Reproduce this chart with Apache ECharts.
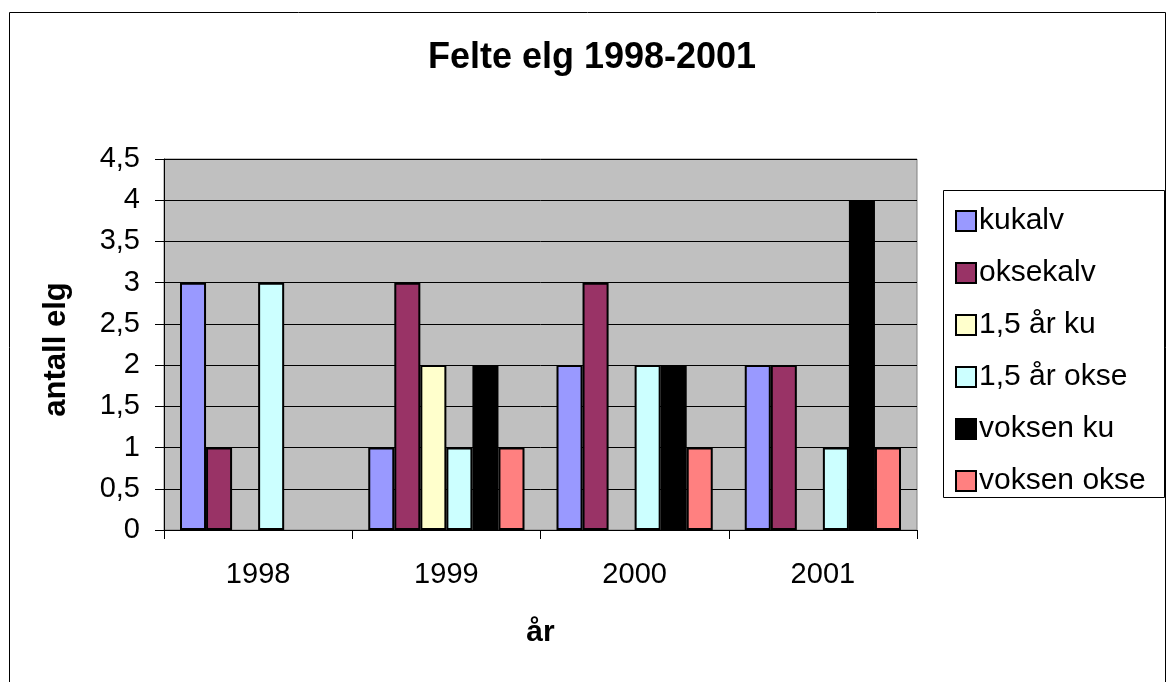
<!DOCTYPE html>
<html>
<head>
<meta charset="utf-8">
<script src="https://cdn.jsdelivr.net/npm/echarts@6/dist/echarts.min.js"></script>
<style>
  html, body { margin: 0; padding: 0; background: #fff; }
  #felte_elg { width: 1168px; height: 682px; }
</style>
</head>
<body>
<div id="felte_elg"></div>
<script>
// data
const years = ['1998', '1999', '2000', '2001'];
const kukalv = [3, 1, 2, 2];
const oksekalv = [1, 3, 3, 2];
const ku15 = [0, 2, 0, 0];
const okse15 = [3, 1, 2, 1];
const voksenKu = [0, 2, 2, 4];
const voksenOkse = [0, 1, 1, 1];

const seriesNames = ['kukalv', 'oksekalv', '1,5 år ku', '1,5 år okse', 'voksen ku', 'voksen okse'];
const seriesData = [kukalv, oksekalv, ku15, okse15, voksenKu, voksenOkse];
const colors = ['#9999FF', '#993366', '#FFFFCC', '#CCFFFF', '#000000', '#FF8080'];

const font = '"Liberation Sans", Arial, sans-serif';

const DrawChart = () => {
    let chart = echarts.init(document.getElementById('felte_elg'));
    let option = {
        animation: false,
        textStyle: { fontFamily: font },
        title: {
            text: 'Felte elg 1998-2001',
            left: 592,
            textAlign: 'center',
            top: 40,
            padding: 0,
            textStyle: { fontSize: 36, lineHeight: 36, fontWeight: 'bold', color: '#000', fontFamily: font }
        },
        graphic: [{
            // outer chart frame
            type: 'rect',
            shape: { x: 9.5, y: 12.5, width: 1156, height: 690 },
            style: { fill: 'none', stroke: '#000', lineWidth: 1 },
            silent: true
        }, {
            // legend frame
            type: 'rect',
            shape: { x: 943.5, y: 190.5, width: 221, height: 307 },
            style: { fill: '#fff', stroke: '#000', lineWidth: 1 },
            silent: true,
            z: 0
        }],
        legend: {
            orient: 'vertical',
            left: 955,
            top: 206,
            padding: 0,
            itemWidth: 20,
            itemHeight: 20,
            itemGap: 22,
            icon: 'rect',
            data: seriesNames,
            textStyle: { fontSize: 30, lineHeight: 29, color: '#000', fontFamily: font, padding: [0, 0, 0, -2] }
        },
        grid: {
            left: 164,
            top: 159,
            width: 753,
            height: 371,
            show: true,
            backgroundColor: '#C0C0C0',
            borderColor: '#808080',
            borderWidth: 1
        },
        xAxis: {
            type: 'category',
            data: years,
            name: 'år',
            nameLocation: 'middle',
            nameGap: 88,
            nameTextStyle: { fontSize: 30, lineHeight: 30, fontWeight: 'bold', color: '#000', fontFamily: font },
            axisLine: { lineStyle: { color: '#000', width: 1 } },
            axisTick: { show: true, length: 9, lineStyle: { color: '#000' } },
            axisLabel: { fontSize: 29, lineHeight: 29, color: '#000', margin: 30, fontFamily: font }
        },
        yAxis: {
            type: 'value',
            min: 0,
            max: 4.5,
            interval: 0.5,
            name: 'antall elg',
            nameLocation: 'middle',
            nameGap: 92,
            nameTextStyle: { fontSize: 31, lineHeight: 31, fontWeight: 'bold', color: '#000', fontFamily: font, padding: [0, 10, 0, 0] },
            axisLine: { show: true, lineStyle: { color: '#000', width: 1 } },
            axisTick: { show: true, length: 9, lineStyle: { color: '#000' } },
            axisLabel: {
                fontSize: 29, color: '#000', margin: 24, fontFamily: font,
                formatter: v => String(v).replace('.', ',')
            },
            splitLine: { show: true, lineStyle: { color: '#000', width: 1 } }
        },
        series: seriesNames.map((name, i) => ({
            name: name,
            type: 'bar',
            // zero counts are left empty so no flat outline shows on the axis
            data: seriesData[i].map(v => (v === 0 ? '-' : v)),
            barGap: '0%',
            barCategoryGap: '17%',
            itemStyle: { color: colors[i], borderColor: '#000', borderWidth: 2 }
        }))
    };
    chart.setOption(option);
};
DrawChart();
</script>
</body>
</html>
